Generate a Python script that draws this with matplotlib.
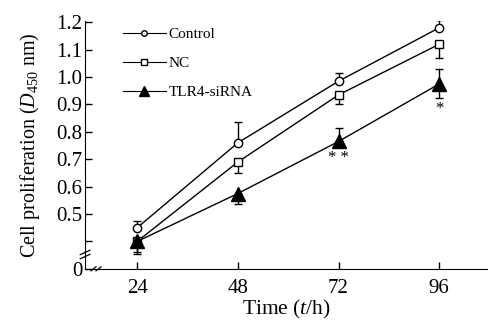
import matplotlib
matplotlib.use("Agg")
import matplotlib.pyplot as plt
from matplotlib.lines import Line2D

plt.rcParams['font.family'] = 'Liberation Serif'
plt.rcParams['mathtext.fontset'] = 'custom'
plt.rcParams['mathtext.rm'] = 'Liberation Serif'
plt.rcParams['mathtext.it'] = 'Liberation Serif:italic'

# data (0 on the broken axis sits where 0.3 would be)
hours = [24, 48, 72, 96]
control = [0.45, 0.76, 0.985, 1.18]
control_up = [0.025, 0.075, 0.03, 0.03]
nc = [0.40, 0.69, 0.935, 1.12]
nc_down = [0.04, 0.04, 0.035, 0.05]
tlr4 = [0.40, 0.575, 0.765, 0.975]
tlr4_up = [0.0, 0.0, 0.05, 0.055]
tlr4_down = [0.045, 0.04, 0.0, 0.05]
yticks = [0.3, 0.4, 0.5, 0.6, 0.7, 0.8, 0.9, 1.0, 1.1, 1.2]
ylabels = ['0', '', '0.5', '0.6', '0.7', '0.8', '0.9', '1.0', '1.1', '1.2']
stars = {72: '* *', 96: '*'}

fig = plt.figure(figsize=(4.89, 3.22), dpi=100)
ax = fig.add_axes([0.174, 0.165, 0.822, 0.77])

ekw = dict(color='black', lw=1.0, capsize=3, capthick=1.0, elinewidth=1.0)
ax.errorbar(hours, control, yerr=[[0] * 4, control_up], marker='o', ms=6,
            mfc='white', mec='black', **ekw)
ax.errorbar(hours, nc, yerr=[nc_down, [0] * 4], marker='s', ms=6,
            mfc='white', mec='black', **ekw)
ax.errorbar(hours, tlr4, yerr=[tlr4_down, tlr4_up], marker='^', ms=10,
            mfc='black', mec='black', **ekw)

# significance marks sit just under the lowest part of each TLR4 point
for h, s in stars.items():
    i = hours.index(h)
    ax.text(h, tlr4[i] - max(tlr4_down[i], 0.02) - 0.012, s, ha='center',
            va='top', fontsize=12)

ax.set_xlim(11.6, 107.4)
ax.set_ylim(0.3, 1.205)
ax.set_xticks(hours)
ax.set_yticks(yticks)
ax.set_yticklabels(ylabels)
ax.tick_params(direction='in', length=5, width=1, labelsize=15)
ax.tick_params(axis='y', pad=2)
ax.tick_params(axis='x', pad=7)
ax.spines['top'].set_visible(False)
ax.spines['right'].set_visible(False)

ax.set_xlabel('Time ($t$/h)', fontsize=15.5, labelpad=0)
ax.set_ylabel('Cell proliferation ($D_{450}$ nm)', fontsize=14.5, labelpad=10)

# axis break marks
for yy in (0.345, 0.36):
    ax.plot([-0.012, 0.012], [yy - 0.008, yy + 0.008], color='black', lw=0.9,
            transform=ax.get_yaxis_transform(), clip_on=False)
for xx in (13.6, 14.8):
    ax.plot([xx - 0.6, xx + 0.6], [-0.008, 0.008], color='black', lw=0.9,
            transform=ax.get_xaxis_transform(), clip_on=False)

handles = [
    Line2D([], [], color='black', lw=0.8, marker='o', ms=4, mfc='white', mec='black'),
    Line2D([], [], color='black', lw=0.8, marker='s', ms=5, mfc='white', mec='black'),
    Line2D([], [], color='black', lw=0.8, marker='^', ms=7, mfc='black', mec='black'),
]
ax.legend(handles, ['Control', 'NC', 'TLR4-siRNA'], loc='upper left',
          bbox_to_anchor=(0.06, 1.03), frameon=False, fontsize=11,
          handlelength=2.8, handletextpad=0.2, labelspacing=1.0)

fig.savefig('out.png', dpi=100)
